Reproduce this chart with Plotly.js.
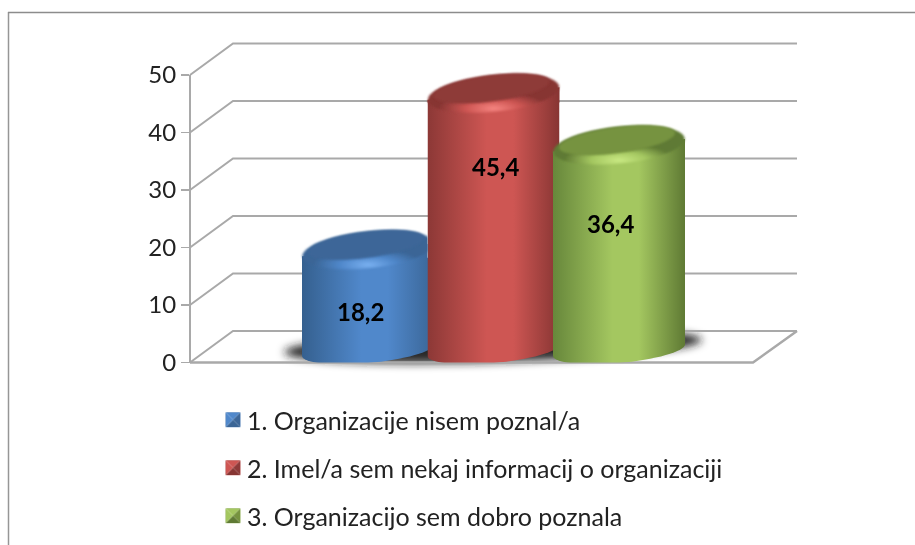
<!DOCTYPE html>
<html><head><meta charset="utf-8">
<script src="https://cdn.plot.ly/plotly-3.0.1.min.js"></script>
<style>html,body{margin:0;padding:0;background:#fff}#chart{width:915px;height:545px;filter:blur(0.4px)}</style>
</head><body><div id="chart"></div>
<script>
// Data
const seriesNames = ['1. Organizacije nisem poznal/a','2. Imel/a sem nekaj informacij o organizaciji','3. Organizacijo sem dobro poznala'];
const seriesValues = [18.2,45.4,36.4];
const tickValues = [0,10,20,30,40,50];

// Styles per series
const shades = [
 {edgeL:'#35608f',mid:'#5088cb',edgeR:'#3a6596',top:'#3c6698',rim:'#79b0f0'},
 {edgeL:'#8c3836',mid:'#ce5653',edgeR:'#873533',top:'#8e3a39',rim:'#f58480'},
 {edgeL:'#67873b',mid:'#a4c760',edgeR:'#5f7a34',top:'#76933f',rim:'#c9e983'}
];
// Layout geometry (pixels on a 1:1 x axis; y axis keeps value units)
const PXPERUNIT = 5.75, Y0PX = 362.5, H = 545, W = 915;
const yRange = [(Y0PX-H)/PXPERUNIT, Y0PX/PXPERUNIT];
const DEPTH_X = 43, DEPTH_V = 31.5/PXPERUNIT;
const FRONT_L = 190, FRONT_R = 753;
const centers = [368,493.5,619], BW = 132;
const CAP_LIFT = 8, TILT = -6, SHOULDER = 6.3;
const labelPx = [[360,311],[495,166],[610,223]];
const v2y = p => (Y0PX-p)/PXPERUNIT;

function tilted(cx,cyPx,rx,ry,deg){ // closed path in data coordinates
  const t=deg*Math.PI/180, pts=[];
  for(let i=0;i<48;i++){
    const a=i/48*2*Math.PI, ex=rx*Math.cos(a), ey=ry*Math.sin(a);
    pts.push((cx+ex*Math.cos(t)-ey*Math.sin(t)).toFixed(2)+','+v2y(cyPx+ex*Math.sin(t)+ey*Math.cos(t)).toFixed(3));
  }
  return 'M'+pts.join('L')+'Z';
}

// traces
const traces = [];
seriesValues.forEach((v,i)=>{
  traces.push({type:'bar',name:seriesNames[i],x:[centers[i]],y:[v],base:0,width:BW,
    marker:{color:shades[i].mid,line:{width:0}},legendgroup:'g'+i,cliponaxis:false});
});
// holder for the visible y axis
traces.push({type:'scatter',x:[FRONT_L],y:[0],yaxis:'y2',mode:'none',hoverinfo:'skip',showlegend:false});

// shapes
const shapes = [];
// frame
shapes.push({type:'line',xref:'paper',yref:'paper',x0:8.5/W,x1:8.5/W,y0:1-12/H,y1:0,line:{color:'#969696',width:1.5},layer:'below'});
shapes.push({type:'line',xref:'paper',yref:'paper',x0:8/W,x1:1,y0:1-12.5/H,y1:1-12.5/H,line:{color:'#8c8c8c',width:1.5},layer:'below'});
// floor shadow (blurred after drawing)
const shadowIdx = shapes.length;
shapes.push({type:'path',xref:'x',yref:'y',path:tilted(493,346,209,16,-1.7),fillcolor:'rgba(30,30,30,0.95)',line:{width:0},layer:'below'});
// wall and floor lines
tickValues.forEach(v=>{
  shapes.push({type:'path',xref:'x',yref:'y',layer:'below',line:{color:'#a9a9a9',width:2},
    path:`M${FRONT_L},${v}L${FRONT_L+DEPTH_X},${v+DEPTH_V}L${FRONT_R+DEPTH_X+1},${v+DEPTH_V}`});
});
shapes.push({type:'path',xref:'x',yref:'y',layer:'below',line:{color:'#a9a9a9',width:2.5},
  path:`M${FRONT_L},0L${FRONT_R},0L${FRONT_R+DEPTH_X+1},${DEPTH_V}`});
// sleeve + cap per cylinder, built from the value
const capIdx = [];
seriesValues.forEach((v,i)=>{
  const lvl = Y0PX-v*PXPERUNIT, cy = lvl-CAP_LIFT, l=centers[i]-BW/2, r=centers[i]+BW/2;
  capIdx.push(shapes.length);
  shapes.push({type:'path',xref:'x',yref:'y',layer:'above',fillcolor:shades[i].mid,line:{width:0},
    path:`M${l},${v2y(lvl+1)}L${r},${v2y(lvl+1)}L${r},${v2y(cy-SHOULDER)}L${l},${v2y(cy+SHOULDER)}Z`});
  shapes.push({type:'path',xref:'x',yref:'y',path:tilted(centers[i],cy,66,18.5,TILT),fillcolor:shades[i].mid,line:{width:0},layer:'above'});
  shapes.push({type:'path',xref:'x',yref:'y',path:tilted(centers[i]-2,cy-5,58.5,13,-7.5),fillcolor:shades[i].top,line:{width:0},layer:'above'});
});

const annotations = seriesValues.map((v,i)=>({xref:'x',yref:'y',x:labelPx[i][0],y:v2y(labelPx[i][1]),text:'<b>'+String(v).replace('.',',')+'</b>',
  showarrow:false,font:{family:'Lato, sans-serif',size:24,color:'#000'}}));

const layout = {
  width:W,height:H,margin:{l:0,r:0,t:0,b:0},paper_bgcolor:'#fff',plot_bgcolor:'rgba(0,0,0,0)',
  barmode:'overlay',showlegend:true,hovermode:false,
  xaxis:{range:[0,W],domain:[0,1],visible:false,fixedrange:true},
  yaxis:{range:yRange,domain:[0,1],visible:false,fixedrange:true},
  yaxis2:{anchor:'free',position:FRONT_L/W,side:'left',
    domain:[(H-Y0PX)/H,(H-(Y0PX-50*PXPERUNIT))/H],range:[0,50],tickvals:tickValues,ticktext:tickValues.map(String),
    showgrid:false,zeroline:false,showline:true,linecolor:'#a9a9a9',linewidth:2,ticks:'outside',ticklen:8,tickwidth:1.5,tickcolor:'#a9a9a9',
    tickfont:{family:'Lato, sans-serif',size:24,color:'#222'},fixedrange:true},
  legend:{x:213/W,y:1-397/H,xanchor:'left',yanchor:'top',bgcolor:'rgba(0,0,0,0)',tracegroupgap:12.5,
    font:{family:'Lato, sans-serif',size:25,color:'#222'},traceorder:'grouped'},
  shapes,annotations
};

Plotly.newPlot('chart',traces,layout,{displayModeBar:false,staticPlot:true}).then(gd=>{
  const svg = gd.querySelector('svg.main-svg');
  const NS='http://www.w3.org/2000/svg';
  let defs = svg.querySelector('defs');
  const mk=(tag,attrs,parent)=>{const e=document.createElementNS(NS,tag);for(const k in attrs)e.setAttribute(k,attrs[k]);(parent||defs).appendChild(e);return e;};
  const f=mk('filter',{id:'shadowBlur',x:'-20%',y:'-100%',width:'140%',height:'300%'});mk('feGaussianBlur',{stdDeviation:'4.5'},f);
  const f2=mk('filter',{id:'softEdge',x:'-5%',y:'-20%',width:'110%',height:'140%'});mk('feGaussianBlur',{stdDeviation:'0.9'},f2);
  const byIndex = idx => gd.querySelector('.shapelayer path[data-index="'+idx+'"]');
  const sh = byIndex(shadowIdx); if(sh) sh.setAttribute('filter','url(#shadowBlur)');
  shades.forEach((s,i)=>{
    const g=mk('linearGradient',{id:'body'+i,x1:'0',x2:'1',y1:'0',y2:'0'});
    [[0,s.edgeL],[.45,s.mid],[.65,s.mid],[1,s.edgeR]].forEach(p=>mk('stop',{offset:p[0],'stop-color':p[1]},g));
    const r=mk('radialGradient',{id:'rim'+i,cx:'.5',cy:'.88',r:'.42'});
    [[0,s.rim],[.5,s.mid],[1,s.edgeR]].forEach(p=>mk('stop',{offset:p[0],'stop-color':p[1]},r));
    const bar = gd.querySelectorAll('.barlayer .trace')[i].querySelector('path');
    bar.style.fill='url(#body'+i+')';
    // rounded floor end of each cylinder
    const cx=centers[i],bw=BW/2,baseCy=350;
    const cp=mk('clipPath',{id:'clip'+i,clipPathUnits:'userSpaceOnUse'});
    const t=-5*Math.PI/180;let d='M'+(cx-bw)+',0L'+(cx+bw)+',0';
    for(let k=0;k<=32;k++){const a=k/32*Math.PI,ex=bw*Math.cos(a),ey=13*Math.sin(a);d+='L'+(cx+ex)+','+(baseCy+ex*Math.sin(t)+ey);}
    mk('path',{d:d+'Z'},cp);
    bar.setAttribute('clip-path','url(#clip'+i+')');
    byIndex(capIdx[i]).style.fill='url(#body'+i+')';
    const cap=byIndex(capIdx[i]+1); cap.style.fill='url(#rim'+i+')'; cap.setAttribute('filter','url(#softEdge)');
    byIndex(capIdx[i]+2).setAttribute('filter','url(#softEdge)');
  });
  // red stands in front of blue: trim blue's cap at red's left edge
  const cb=mk('clipPath',{id:'clipBlueCap',clipPathUnits:'userSpaceOnUse'});
  mk('rect',{x:0,y:0,width:centers[1]-BW/2,height:H},cb);
  [capIdx[0],capIdx[0]+1,capIdx[0]+2].forEach(k=>{const p=byIndex(k);const w=document.createElementNS(NS,'g');w.setAttribute('clip-path','url(#clipBlueCap)');p.parentNode.insertBefore(w,p);w.appendChild(p);});
  // legend swatches with the pyramid bevel
  const items=gd.querySelectorAll('.legend .traces');
  items.forEach((it,i)=>{
    const s=shades[i];
    const pat=mk('pattern',{id:'sw'+i,width:1,height:1,patternContentUnits:'objectBoundingBox'});
    mk('polygon',{points:'0,0 1,0 .5,.5',fill:s.mid},pat);
    mk('polygon',{points:'1,0 1,1 .5,.5',fill:s.top},pat);
    mk('polygon',{points:'0,1 1,1 .5,.5',fill:s.edgeR},pat);
    mk('polygon',{points:'0,0 0,1 .5,.5',fill:s.mid},pat);
    const p=it.querySelector('.legendpoints path');
    if(p){p.setAttribute('d','M7.5,7.5H-7.5V-7.5H7.5Z');p.style.fill='url(#sw'+i+')';p.style.stroke='none';}
    const tx=it.querySelector('.legendtext');
    if(tx){tx.setAttribute('transform','translate(-6,0)');}
  });
});
</script></body></html>
